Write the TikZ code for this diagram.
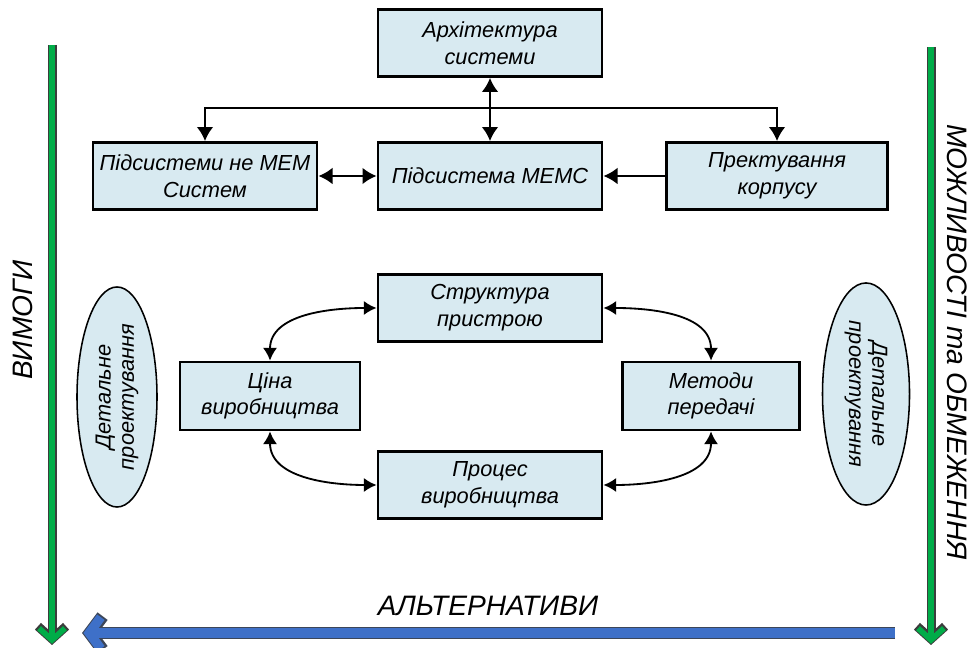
\documentclass[tikz,border=0pt]{standalone}
\usepackage{fontspec}
\setmainfont{Liberation Sans}
\usetikzlibrary{arrows.meta,positioning,shapes.geometric}
\definecolor{boxblue}{RGB}{216,234,241}
\definecolor{sidegreen}{RGB}{0,172,72}
\definecolor{altblue}{RGB}{62,112,200}
\definecolor{edgegray}{RGB}{60,60,60}
\begin{document}
\begin{tikzpicture}[x=0.025cm,y=0.025cm,
box/.style={rectangle,draw,line width=2pt,fill=boxblue,align=center,
 minimum width=5.6cm,minimum height=1.675cm,inner sep=2pt,
 font=\itshape\fontsize{15.5}{19}\selectfont},
oval/.style={ellipse,draw,line width=1.1pt,fill=boxblue,align=center,inner sep=0pt,
 font=\itshape\fontsize{15.5}{16.5}\selectfont},
side/.style={font=\itshape\fontsize{20}{24}\selectfont},
link/.style={line width=1.8pt,-{Latex[length=10pt,width=12pt]}},
linkk/.style={line width=1.8pt,{Latex[length=10pt,width=12pt]}-{Latex[length=10pt,width=12pt]}},
loop/.style={line width=1.3pt,{Latex[length=9pt,width=10pt]}-{Latex[length=9pt,width=10pt]}}]
\useasboundingbox (0,0) rectangle (970,648);
% top part
\node[box] (Arch) at (490,605) {Архітектура\\системи};
\node[box] (NeMEM) at (205,472) {Підсистеми не МЕМ\\Систем};
\node[box] (Mems) at (490,472) {Підсистема МЕМС};
\node[box,minimum width=5.525cm] (Korp) at (777,472) {Пректування\\корпусу};
\coordinate (Hub) at (490,540);
\draw[link] (Hub) -| (NeMEM);
\draw[link] (Hub) -| (Korp);
\draw[linkk] (Arch) -- (Mems);
\draw[linkk] (NeMEM) -- (Mems);
\draw[link] (Korp) -- (Mems);
% lower part
\node[box] (Strukt) at (490,340) {Структура\\пристрою};
\node[box,minimum width=4.5cm,minimum height=1.7cm] (Cina) at (270,252) {Ціна\\виробництва};
\node[box,minimum width=4.425cm,minimum height=1.7cm] (Metod) at (711,252) {Методи\\передачі};
\node[box] (Proc) at (490,163) {Процес\\виробництва};
\draw[loop] (Strukt.west) to[out=180,in=90] (Cina.north);
\draw[loop] (Strukt.east) to[out=0,in=90] (Metod.north);
\draw[loop] (Proc.west) to[out=180,in=-90] (Cina.south);
\draw[loop] (Proc.east) to[out=0,in=-90] (Metod.south);
\node[oval,rotate=90,minimum width=5.5cm,minimum height=2cm] (DetL) at (117,251) {Детальне\\проектування};
\node[oval,rotate=-90,minimum width=5.55cm,minimum height=2.175cm] (DetR) at (866,254) {Детальне\\проектування};
% side arrows
\coordinate (LTop) at (52,603);
\coordinate (LBot) at (52,3);
\coordinate (RTop) at (931,601);
\coordinate (RBot) at (931,3);
\coordinate (AltR) at (895,15);
\coordinate (AltL) at (82,15);
\foreach \a/\b in {LTop/LBot,RTop/RBot}{
 \draw[edgegray,line width=6.4pt,-{Straight Barb[length=9pt,width=20pt]}] (\a) -- (\b);
 \draw[sidegreen,line width=4pt,shorten >=0.9pt,-{Straight Barb[length=8.3pt,width=18.4pt]}] (\a) -- (\b);
}
\draw[edgegray!80!altblue,line width=9pt,-{Straight Barb[length=9pt,width=24pt]}] (AltR) -- (AltL);
\draw[altblue,line width=6.6pt,shorten >=1pt,-{Straight Barb[length=8.3pt,width=22.4pt]}] (AltR) -- (AltL);
\node[side,rotate=90] (Vymohy) at (23,328) {ВИМОГИ};
\node[side,rotate=-90] (Mozh) at (957,306) {МОЖЛИВОСТІ та ОБМЕЖЕННЯ};
\node[side] (Alt) at (488,42) {АЛЬТЕРНАТИВИ};
\end{tikzpicture}
\end{document}
